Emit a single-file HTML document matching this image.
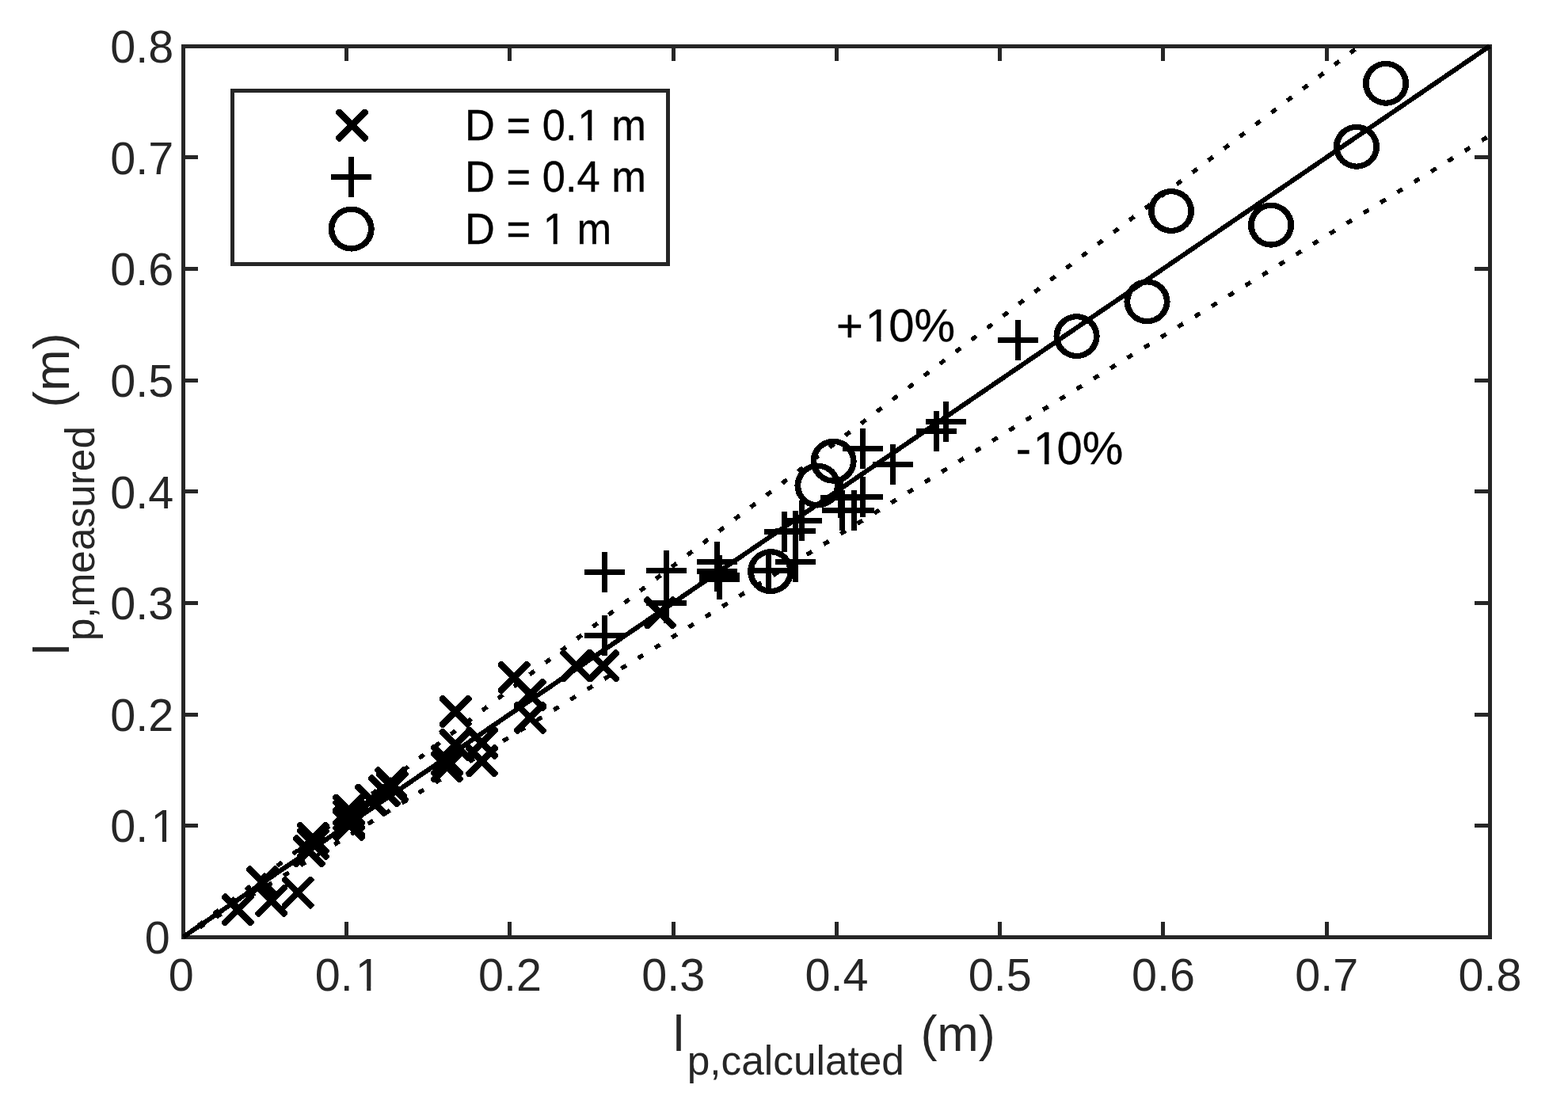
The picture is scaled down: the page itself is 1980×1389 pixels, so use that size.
<!DOCTYPE html>
<html lang="en"><head><meta charset="utf-8"><title>Measured vs calculated plug length</title>
<style>
html,body{margin:0;padding:0;background:#fff;}
body{width:1980px;height:1389px;overflow:hidden;}
svg{display:block;}
text{font-family:"Liberation Sans",Arial,Helvetica,sans-serif;}
.t{fill:#262626;font-size:57.5px;}
.lg{fill:#000;font-size:52.5px;stroke:#000;stroke-width:0.3px;}
.lb{fill:#262626;font-size:63px;}
.sb{font-size:51.4px;}
.an{fill:#000;font-size:58px;stroke:#000;stroke-width:0.3px;}
.ax{stroke:#262626;stroke-width:4.7;fill:none;}
.m{stroke:#000;stroke-width:7;fill:none;}
.ln{stroke:#000;stroke-width:6;fill:none;}
</style></head><body>
<svg width="1980" height="1389" viewBox="0 0 1980 1389">
<rect x="0" y="0" width="1980" height="1389" fill="#fff"/>
<defs>
<path id="mx" stroke="none" fill="#000" d="M0.00 -5.75L-14.75 -20.50L-17.20 -20.50L-20.50 -17.20L-20.50 -14.75L-5.75 0.00L-20.50 14.75L-20.50 17.20L-17.20 20.50L-14.75 20.50L0.00 5.75L14.75 20.50L17.20 20.50L20.50 17.20L20.50 14.75L5.75 0.00L20.50 -14.75L20.50 -17.20L17.20 -20.50L14.75 -20.50Z"/>
<path id="mp" d="M-25.5 0H25.5M0 -25.5V25.5"/>
<path id="mc" stroke="none" fill="#000" fill-rule="evenodd" d="M-29.1 0A29.1 28.5 0 1 0 29.1 0A29.1 28.5 0 1 0 -29.1 0ZM-21.3 0A21.3 21.3 0 1 0 21.3 0A21.3 21.3 0 1 0 -21.3 0Z"/>
</defs>
<g shape-rendering="crispEdges">
<path fill="#262626" d="M229 56h1655v5h-1655zM229 1181h1655v5h-1655zM229 56h5v1130h-5zM1879 56h5v1130h-5zM435 1164h5v17h-5zM435 61h5v16h-5zM234 1040h16v5h-16zM1862 1040h17v5h-17zM641 1164h5v17h-5zM641 61h5v16h-5zM234 900h16v5h-16zM1862 900h17v5h-17zM848 1164h5v17h-5zM848 61h5v16h-5zM234 759h16v5h-16zM1862 759h17v5h-17zM1054 1164h5v17h-5zM1054 61h5v16h-5zM234 618h16v5h-16zM1862 618h17v5h-17zM1260 1164h5v17h-5zM1260 61h5v16h-5zM234 478h16v5h-16zM1862 478h17v5h-17zM1466 1164h5v17h-5zM1466 61h5v16h-5zM234 337h16v5h-16zM1862 337h17v5h-17zM1673 1164h5v17h-5zM1673 61h5v16h-5zM234 196h16v5h-16zM1862 196h17v5h-17z"/>
<g class="ln">
<line x1="231.3" y1="1183.3" x2="1716.3" y2="58.3" stroke-width="5.4" stroke-dasharray="7.6 17.4" stroke-dashoffset="1.1"/>
<line x1="231.3" y1="1183.6" x2="1881.3" y2="171.1" stroke-width="5.4" stroke-dasharray="7.6 17.4" stroke-dashoffset="1.1"/>
<line x1="231.3" y1="1183.1" x2="1881.3" y2="58.1"/>
</g>
<g class="m">
<use href="#mx" x="300.3" y="1148.8"/>
<use href="#mx" x="342.6" y="1137.3"/>
<use href="#mx" x="376" y="1127"/>
<use href="#mx" x="331.3" y="1113.8"/>
<use href="#mx" x="395.25" y="1058.3"/>
<use href="#mx" x="395.25" y="1065.2"/>
<use href="#mx" x="390.2" y="1074.9"/>
<use href="#mx" x="440.6" y="1023"/>
<use href="#mx" x="440.6" y="1029.2"/>
<use href="#mx" x="440.6" y="1038.3"/>
<use href="#mx" x="440.6" y="1041.7"/>
<use href="#mx" x="468.4" y="1010.1"/>
<use href="#mx" x="485.5" y="998.8"/>
<use href="#mx" x="493.8" y="988.8"/>
<use href="#mx" x="495.3" y="993.7"/>
<use href="#mx" x="575" y="898.3"/>
<use href="#mx" x="575" y="940.7"/>
<use href="#mx" x="564.4" y="960.1"/>
<use href="#mx" x="564.4" y="967.9"/>
<use href="#mx" x="608.5" y="960.8"/>
<use href="#mx" x="608.5" y="938.2"/>
<use href="#mx" x="649" y="855.4"/>
<use href="#mx" x="669.3" y="877.4"/>
<use href="#mx" x="669.3" y="906.4"/>
<use href="#mx" x="727.7" y="840.6"/>
<use href="#mx" x="761.8" y="840.6"/>
<use href="#mx" x="833.5" y="773.8"/>
<use href="#mp" x="763.4" y="722.5"/>
<use href="#mp" x="763.4" y="802.1"/>
<use href="#mp" x="841.7" y="720.5"/>
<use href="#mp" x="841.7" y="761.5"/>
<use href="#mp" x="905.9" y="709.5"/>
<use href="#mp" x="905.9" y="721.5"/>
<use href="#mp" x="908.4" y="726.5"/>
<use href="#mp" x="908.4" y="731"/>
<use href="#mp" x="1089.6" y="566.5"/>
<use href="#mp" x="1127.1" y="586.4"/>
<use href="#mp" x="1089.6" y="627.3"/>
<use href="#mp" x="1078.4" y="644"/>
<use href="#mp" x="1063.2" y="644"/>
<use href="#mp" x="1061.8" y="628"/>
<use href="#mp" x="1012.5" y="657"/>
<use href="#mp" x="1004.5" y="670.4"/>
<use href="#mp" x="990.7" y="671.9"/>
<use href="#mp" x="970.3" y="720.7"/>
<use href="#mp" x="1004.4" y="709.4"/>
<use href="#mp" x="1285.6" y="429.4"/>
<use href="#mp" x="1194.1" y="532.7"/>
<use href="#mp" x="1182.7" y="544"/>
<use href="#mc" x="1052.6" y="582.3"/>
<use href="#mc" x="1032.5" y="613.1"/>
<use href="#mc" x="973.2" y="721.6"/>
<use href="#mc" x="1359.6" y="424.6"/>
<use href="#mc" x="1448.5" y="380.8"/>
<use href="#mc" x="1479" y="266.5"/>
<use href="#mc" x="1605.1" y="284.2"/>
<use href="#mc" x="1750" y="105.3"/>
<use href="#mc" x="1713" y="185.3"/>
</g>
<rect x="291" y="112" width="555" height="224" fill="#262626"/>
<rect x="296" y="117" width="545" height="214" fill="#fff"/>
<g class="m">
<use href="#mx" x="444.5" y="158.2"/>
<use href="#mp" x="443.6" y="223.3"/>
<use href="#mc" x="443.6" y="289.1"/>
</g>
</g>
<clipPath id="tc" clipPathUnits="userSpaceOnUse"><path clip-rule="evenodd" d="M0 0H1980V1389H0ZM452 1246h11.198v6h-11.198zM468.309 1246h10.691v6h-10.691zM193 1058h11.949v6h-11.949zM210.051 1058h10.949v6h-10.949zM732 172h10.314v7h-10.314zM747.306 172h9.694v7h-9.694zM688 303h10.733v7h-10.733zM703.702 303h10.298v7h-10.298zM1095 426h11.925v7h-11.925zM1112.45 426h11.545v7h-11.545zM1307 581h11.925v7h-11.925zM1324.45 581h11.545v7h-11.545z"/></clipPath>
<g id="txt" clip-path="url(#tc)">
<g class="t">
<text x="212.71" y="1251">0</text>
<text x="397.78" y="1251" dx="0 0 3.05">0.1</text>
<text x="604.03" y="1251">0.2</text>
<text x="810.28" y="1251">0.3</text>
<text x="1016.53" y="1251">0.4</text>
<text x="1222.78" y="1251">0.5</text>
<text x="1429.03" y="1251">0.6</text>
<text x="1635.28" y="1251">0.7</text>
<text x="1841.53" y="1251">0.8</text>
<text x="182.72" y="1204">0</text>
<text x="139.36" y="1063" dx="0 0 3.05">0.1</text>
<text x="139.36" y="923">0.2</text>
<text x="139.36" y="782">0.3</text>
<text x="139.36" y="642">0.4</text>
<text x="139.36" y="501">0.5</text>
<text x="139.36" y="360">0.6</text>
<text x="139.36" y="220">0.7</text>
<text x="139.36" y="79">0.8</text>
</g>
<g class="lg">
<text transform="translate(587 177) scale(1 1.045)" dx="0 0 0 0 0 0 0.7 -0.7">D = 0.1 m</text>
<text transform="translate(587 242) scale(1 1.045)">D = 0.4 m</text>
<text transform="translate(587 308) scale(1 1.045)" dx="0 0 0 0 0.9 -0.9">D = 1 m</text>
</g>
<g class="an">
<text x="1056" y="431" dx="0 2.5 -2.5">+10%</text>
<text x="1282.8" y="586" dx="0 2.3 -2.3">-10%</text>
</g>
</g>
<text class="lb" x="850.05" y="1327">l<tspan class="sb" dx="3.65" dy="30">p,calculated</tspan><tspan dx="2.9" dy="-30"> (m)</tspan></text>
<text class="lb" transform="translate(87 827) rotate(-90)">l<tspan class="sb" dx="3.65" dy="31.8">p,measured</tspan><tspan dx="5.7" dy="-31.8"> (m)</tspan></text>
</svg>
</body></html>
